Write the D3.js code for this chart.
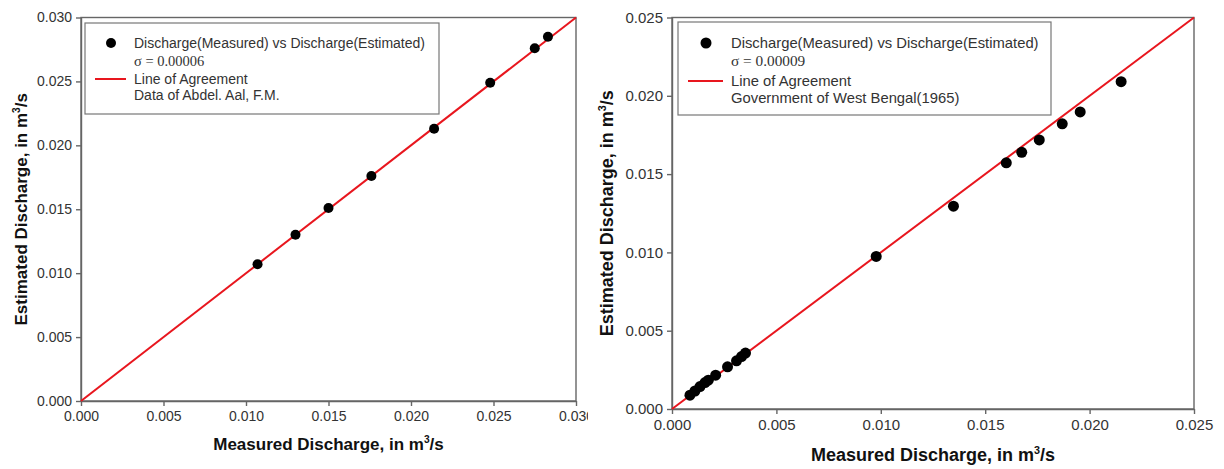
<!DOCTYPE html>
<html>
<head>
<meta charset="utf-8">
<script src="https://cdn.jsdelivr.net/npm/d3@7"></script>
<style>
  body { margin: 0; background: #fff; }
  text { font-family: "Liberation Sans", Arial, sans-serif; fill: #333; }
  .axis path, .axis line { stroke: #666; stroke-width: 1.4; }
  .axis text { font-size: 14px; fill: #333; }
</style>
</head>
<body>
<div id="chart"></div>
<script>
// left panel data (Abdel Aal)
var leftMeasured  = [0.0107, 0.0130, 0.0150, 0.0176, 0.0214, 0.0248, 0.0275, 0.0283];
var leftEstimated = [0.0107, 0.0130, 0.0151, 0.0176, 0.0213, 0.0249, 0.0276, 0.0285];
var leftTicks = [0, 0.005, 0.010, 0.015, 0.020, 0.025, 0.030];

// right panel data (Govt. of West Bengal)
var rightMeasured  = [0.00086, 0.00110, 0.00134, 0.00158, 0.00174, 0.00209, 0.00266, 0.00309, 0.00333, 0.00352,
                      0.00978, 0.01348, 0.01601, 0.01675, 0.01759, 0.01869, 0.01955, 0.02151];
var rightEstimated = [0.00088, 0.00115, 0.00143, 0.00169, 0.00184, 0.00216, 0.00269, 0.00308, 0.00335, 0.00357,
                      0.00974, 0.01295, 0.01572, 0.01639, 0.01718, 0.01821, 0.01897, 0.02090];
var rightTicks = [0, 0.005, 0.010, 0.015, 0.020, 0.025];

var legendPoints = "Discharge(Measured) vs Discharge(Estimated)";
var legendLine = "Line of Agreement";

var panels = [
  { xs: leftMeasured, ys: leftEstimated, ticks: leftTicks, max: 0.030,
    sigma: "\u03c3 = 0.00006", source: "Data of Abdel. Aal, F.M.",
    left: 81, right: 576, top: 17.5, bottom: 401, bgX: 0,
    titleX: 21, xTitleY: 450, tickFont: 14, titleFont: 17, legFont: 14,
    leg: { x: 85, y: 23, w: 354, h: 91, dotX: 111, lineX1: 95, lineX2: 126, textX: 134, rows: [43, 61, 79, 95] },
    r: 5 },
  { xs: rightMeasured, ys: rightEstimated, ticks: rightTicks, max: 0.025,
    sigma: "\u03c3 = 0.00009", source: "Government of West Bengal(1965)",
    left: 672, right: 1194, top: 17.5, bottom: 409, bgX: 588,
    titleX: 607, xTitleY: 461, tickFont: 15, titleFont: 18, legFont: 14.8,
    leg: { x: 678, y: 22, w: 373, h: 93, dotX: 706, lineX1: 688, lineX2: 723, textX: 731, rows: [43, 61, 81, 98] },
    r: 5.5 }
];

var svg = d3.select("#chart").append("svg")
  .attr("width", 1224)
  .attr("height", 469);

panels.forEach(function(p) {
  var g = svg.append("g");

  // white background (also clips the neighbour's last tick label)
  g.append("rect")
    .attr("x", p.bgX).attr("y", 0)
    .attr("width", 1224 - p.bgX).attr("height", 469)
    .attr("fill", "#fff");

  var x = d3.scaleLinear().domain([0, p.max]).range([p.left, p.right]);
  var y = d3.scaleLinear().domain([0, p.max]).range([p.bottom, p.top]);

  var fmt = d3.format(".3f");

  var xAxis = g.append("g")
    .attr("class", "axis")
    .attr("transform", `translate(0, ${p.bottom})`)
    .call(d3.axisBottom(x).tickValues(p.ticks).tickFormat(fmt).tickSize(5).tickSizeOuter(0).tickPadding(5));
  xAxis.selectAll("text").style("font-size", p.tickFont + "px");

  var yAxis = g.append("g")
    .attr("class", "axis")
    .attr("transform", `translate(${p.left}, 0)`)
    .call(d3.axisLeft(y).tickValues(p.ticks).tickFormat(fmt).tickSize(5).tickSizeOuter(0).tickPadding(4));
  yAxis.selectAll("text").style("font-size", p.tickFont + "px");

  // frame
  g.append("rect")
    .attr("x", p.left).attr("y", p.top)
    .attr("width", p.right - p.left).attr("height", p.bottom - p.top)
    .attr("fill", "none").attr("stroke", "#666").attr("stroke-width", 1.4);

  // line of agreement
  g.append("line")
    .attr("x1", x(0)).attr("y1", y(0))
    .attr("x2", x(p.max)).attr("y2", y(p.max))
    .attr("stroke", "#e8161e").attr("stroke-width", 2);

  // points
  g.selectAll("circle.pt")
    .data(p.xs.map(function(v, i) { return [v, p.ys[i]]; }))
    .enter()
    .append("circle")
    .attr("class", "pt")
    .attr("cx", d => x(d[0]))
    .attr("cy", d => y(d[1]))
    .attr("r", p.r)
    .attr("fill", "#000");

  // axis titles
  var xt = g.append("text")
    .attr("x", (p.left + p.right) / 2)
    .attr("y", p.xTitleY)
    .attr("text-anchor", "middle")
    .style("font-weight", "bold")
    .style("font-size", p.titleFont + "px")
    .style("fill", "#111");
  xt.append("tspan").text("Measured Discharge, in m");
  xt.append("tspan").attr("dy", -7).style("font-size", (p.titleFont * 0.6) + "px").text("3");
  xt.append("tspan").attr("dy", 7).text("/s");

  var yt = g.append("text")
    .attr("transform", `translate(${p.titleX + 6}, ${(p.top + p.bottom) / 2}) rotate(-90)`)
    .attr("text-anchor", "middle")
    .style("font-weight", "bold")
    .style("font-size", p.titleFont + "px")
    .style("fill", "#111");
  yt.append("tspan").text("Estimated Discharge, in m");
  yt.append("tspan").attr("dy", -7).style("font-size", (p.titleFont * 0.6) + "px").text("3");
  yt.append("tspan").attr("dy", 7).text("/s");

  // legend
  var L = p.leg;
  var lg = g.append("g");
  lg.append("rect")
    .attr("x", L.x).attr("y", L.y).attr("width", L.w).attr("height", L.h)
    .attr("fill", "#fff").attr("stroke", "#777").attr("stroke-width", 1.2);
  lg.append("circle")
    .attr("cx", L.dotX).attr("cy", L.rows[0]).attr("r", p.r).attr("fill", "#000");
  lg.append("line")
    .attr("x1", L.lineX1).attr("x2", L.lineX2)
    .attr("y1", L.rows[2]).attr("y2", L.rows[2])
    .attr("stroke", "#e8161e").attr("stroke-width", 2);
  [legendPoints, p.sigma, legendLine, p.source].forEach(function(t, i) {
    lg.append("text")
      .attr("x", L.textX).attr("y", L.rows[i])
      .attr("dy", "0.35em")
      .style("font-size", (i == 1 ? p.legFont + 0.5 : p.legFont) + "px")
      .style("font-family", i == 1 ? "'Liberation Serif', 'Times New Roman', serif" : null)
      .text(t);
  });
});
</script>
</body>
</html>
